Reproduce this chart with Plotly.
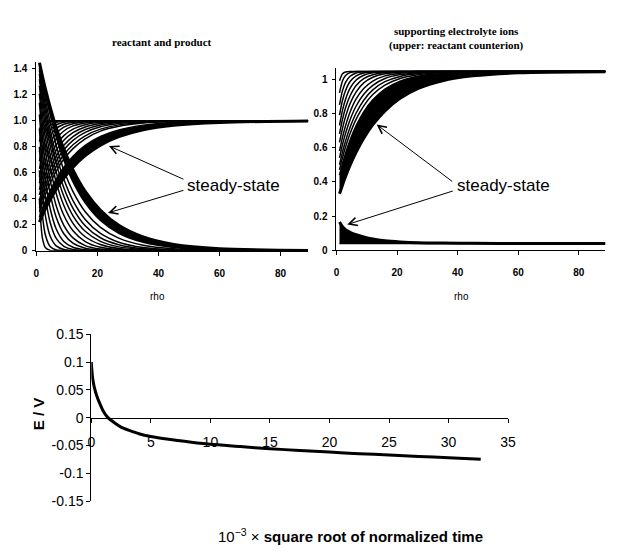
import plotly.graph_objects as go

W, H = 623, 553

# ---------------- data ----------------
RHO = [1, 2, 3, 4.5, 6.5, 9, 12, 16, 21, 27, 35, 45, 60, 92]

# reactant profiles (upper family, left panel), successive times
REACTANT_TRANSIENT = [
    [0.93, 0.983, 0.996, 1.0, 1.0, 1.0, 1.0, 1.0, 1.0, 1.0, 1.0, 1.0, 1.0, 1.0],
    [0.84, 0.93, 0.97, 0.991, 0.998, 1.0, 1.0, 1.0, 1.0, 1.0, 1.0, 1.0, 1.0, 1.0],
    [0.76, 0.862, 0.921, 0.966, 0.989, 0.997, 1.0, 1.0, 1.0, 1.0, 1.0, 1.0, 1.0, 1.0],
    [0.69, 0.796, 0.865, 0.928, 0.969, 0.989, 0.997, 0.999, 1.0, 1.0, 1.0, 1.0, 1.0, 1.0],
    [0.63, 0.735, 0.81, 0.885, 0.941, 0.974, 0.99, 0.997, 1.0, 1.0, 1.0, 1.0, 1.0, 1.0],
    [0.57, 0.672, 0.75, 0.833, 0.903, 0.951, 0.978, 0.993, 0.998, 1.0, 1.0, 1.0, 1.0, 1.0],
    [0.52, 0.617, 0.695, 0.784, 0.862, 0.922, 0.961, 0.984, 0.995, 0.999, 1.0, 1.0, 1.0, 1.0],
    [0.47, 0.563, 0.639, 0.73, 0.816, 0.886, 0.936, 0.97, 0.989, 0.996, 0.999, 1.0, 1.0, 1.0],
    [0.43, 0.518, 0.591, 0.682, 0.772, 0.85, 0.909, 0.953, 0.979, 0.993, 0.998, 1.0, 1.0, 1.0],
    [0.39, 0.474, 0.546, 0.635, 0.729, 0.812, 0.879, 0.933, 0.968, 0.987, 0.996, 0.999, 1.0, 1.0],
    [0.36, 0.439, 0.508, 0.596, 0.69, 0.777, 0.85, 0.911, 0.954, 0.979, 0.993, 0.998, 1.0, 1.0],
    [0.33, 0.404, 0.471, 0.556, 0.649, 0.739, 0.816, 0.885, 0.936, 0.969, 0.988, 0.996, 0.999, 1.0],
    [0.30, 0.37, 0.435, 0.518, 0.612, 0.705, 0.786, 0.862, 0.921, 0.958, 0.983, 0.994, 0.999, 1.0],
]
REACTANT_BAND_EDGE = [0.26, 0.324, 0.383, 0.461, 0.551, 0.643, 0.728, 0.811, 0.88, 0.93, 0.967, 0.987, 0.996, 1.0]
REACTANT_STEADY = [0.22, 0.274, 0.324, 0.392, 0.474, 0.559, 0.644, 0.732, 0.813, 0.878, 0.931, 0.966, 0.988, 0.999]

# product profiles (lower family, left panel)
PRODUCT_TRANSIENT = [
    [0.40, 0.096, 0.023, 0.003, 0.0, 0.0, 0.0, 0.0, 0.0, 0.0, 0.0, 0.0, 0.0, 0.0],
    [0.62, 0.27, 0.117, 0.033, 0.006, 0.001, 0.0, 0.0, 0.0, 0.0, 0.0, 0.0, 0.0, 0.0],
    [0.80, 0.459, 0.263, 0.114, 0.038, 0.01, 0.002, 0.0, 0.0, 0.0, 0.0, 0.0, 0.0, 0.0],
    [0.94, 0.619, 0.409, 0.219, 0.095, 0.034, 0.009, 0.002, 0.0, 0.0, 0.0, 0.0, 0.0, 0.0],
    [1.05, 0.753, 0.539, 0.327, 0.168, 0.072, 0.027, 0.007, 0.001, 0.0, 0.0, 0.0, 0.0, 0.0],
    [1.14, 0.87, 0.663, 0.442, 0.258, 0.131, 0.058, 0.019, 0.005, 0.001, 0.0, 0.0, 0.0, 0.0],
    [1.21, 0.964, 0.768, 0.546, 0.347, 0.196, 0.099, 0.04, 0.013, 0.004, 0.0, 0.0, 0.0, 0.0],
    [1.27, 1.048, 0.865, 0.648, 0.441, 0.273, 0.154, 0.071, 0.027, 0.009, 0.001, 0.0, 0.0, 0.0],
    [1.32, 1.117, 0.946, 0.737, 0.528, 0.348, 0.211, 0.108, 0.048, 0.017, 0.004, 0.001, 0.0, 0.0],
    [1.36, 1.174, 1.013, 0.813, 0.605, 0.419, 0.269, 0.15, 0.072, 0.03, 0.01, 0.003, 0.0, 0.0],
    [1.39, 1.218, 1.069, 0.877, 0.674, 0.485, 0.327, 0.193, 0.1, 0.046, 0.015, 0.004, 0.0, 0.0],
    [1.41, 1.253, 1.114, 0.933, 0.739, 0.55, 0.386, 0.241, 0.134, 0.066, 0.025, 0.008, 0.001, 0.0],
    [1.425, 1.29, 1.16, 0.99, 0.81, 0.62, 0.455, 0.30, 0.18, 0.097, 0.043, 0.015, 0.003, 0.0],
]
PRODUCT_BAND_EDGE = [1.44, 1.315, 1.201, 1.048, 0.874, 0.696, 0.53, 0.369, 0.233, 0.135, 0.065, 0.026, 0.007, 0.0]
PRODUCT_STEADY = [1.45, 1.343, 1.243, 1.108, 0.95, 0.784, 0.622, 0.457, 0.312, 0.196, 0.106, 0.049, 0.016, 0.001]

# reactant counterion (upper family, right panel)
COUNTER_TRANSIENT = [
    [0.99, 1.032, 1.042, 1.045, 1.045, 1.045, 1.045, 1.045, 1.045, 1.045, 1.045, 1.045, 1.045, 1.045],
    [0.92, 0.991, 1.021, 1.038, 1.044, 1.045, 1.045, 1.045, 1.045, 1.045, 1.045, 1.045, 1.045, 1.045],
    [0.85, 0.933, 0.981, 1.017, 1.036, 1.043, 1.045, 1.045, 1.045, 1.045, 1.045, 1.045, 1.045, 1.045],
    [0.79, 0.877, 0.934, 0.986, 1.019, 1.036, 1.042, 1.045, 1.045, 1.045, 1.045, 1.045, 1.045, 1.045],
    [0.73, 0.819, 0.883, 0.947, 0.995, 1.023, 1.037, 1.043, 1.045, 1.045, 1.045, 1.045, 1.045, 1.045],
    [0.68, 0.766, 0.833, 0.903, 0.963, 1.003, 1.026, 1.039, 1.043, 1.045, 1.045, 1.045, 1.045, 1.045],
    [0.63, 0.714, 0.781, 0.858, 0.926, 0.978, 1.011, 1.031, 1.04, 1.044, 1.045, 1.045, 1.045, 1.045],
    [0.58, 0.661, 0.728, 0.808, 0.884, 0.945, 0.989, 1.019, 1.035, 1.042, 1.045, 1.045, 1.045, 1.045],
    [0.54, 0.618, 0.683, 0.763, 0.843, 0.912, 0.964, 1.004, 1.027, 1.038, 1.043, 1.045, 1.045, 1.045],
    [0.50, 0.575, 0.639, 0.719, 0.802, 0.877, 0.937, 0.985, 1.016, 1.033, 1.041, 1.044, 1.045, 1.045],
    [0.47, 0.541, 0.603, 0.682, 0.766, 0.844, 0.91, 0.965, 1.004, 1.026, 1.039, 1.043, 1.045, 1.045],
]
COUNTER_BAND_EDGE = [0.44, 0.507, 0.567, 0.644, 0.728, 0.809, 0.879, 0.942, 0.988, 1.017, 1.034, 1.041, 1.044, 1.045]
COUNTER_STEADY = [0.33, 0.382, 0.431, 0.497, 0.574, 0.655, 0.734, 0.815, 0.888, 0.946, 0.991, 1.019, 1.037, 1.044]

# other supporting electrolyte ion (lower family, right panel)
COION_INITIAL = [0.04, 0.04, 0.04, 0.04, 0.04, 0.04, 0.04, 0.04, 0.04, 0.04, 0.04, 0.04, 0.04, 0.04]
COION_STEADY = [0.165, 0.138, 0.12, 0.105, 0.091, 0.078, 0.066, 0.056, 0.049, 0.044, 0.042, 0.041, 0.04, 0.04]

# potential transient
SQRT_TIME = [0, 0.05, 0.12, 0.25, 0.45, 0.7, 1.0, 1.4, 2.0, 2.5, 3.2, 4.0, 5.0, 6.5, 8.0,
             10, 12.5, 15, 17.5, 20, 22.5, 25, 27.5, 30, 32.7]
POTENTIAL = [0.100, 0.085, 0.070, 0.055, 0.040, 0.026, 0.012, 0.0, -0.010, -0.017, -0.023,
             -0.029, -0.034, -0.039, -0.043, -0.048, -0.052, -0.056, -0.059, -0.062,
             -0.065, -0.067, -0.070, -0.072, -0.075]

LEFT_YTICKS = [0, 0.2, 0.4, 0.6, 0.8, 1.0, 1.2, 1.4]
LEFT_YTICKTEXT = ["0", "0.2", "0.4", "0.6", "0.8", "1.0", "1.2", "1.4"]
RIGHT_YTICKS = [0, 0.2, 0.4, 0.6, 0.8, 1.0]
RIGHT_YTICKTEXT = ["0", "0.2", "0.4", "0.6", "0.8", "1"]
RHO_TICKS = [0, 20, 40, 60, 80]
E_TICKS = [-0.15, -0.1, -0.05, 0, 0.05, 0.1, 0.15]
E_TICKTEXT = ["-0.15", "-0.1", "-0.05", "0", "0.05", "0.1", "0.15"]
T_TICKS = [0, 5, 10, 15, 20, 25, 30, 35]

# ---------------- figure ----------------
fig = go.Figure()
BLACK = "black"
THIN = 1.5


def add_family(transients, edge, steady, xa, ya):
    for prof in transients:
        fig.add_trace(go.Scatter(x=RHO, y=prof, mode="lines", xaxis=xa, yaxis=ya,
                                 line=dict(color=BLACK, width=THIN, shape="spline", smoothing=0.8),
                                 showlegend=False, hoverinfo="skip"))
    fig.add_trace(go.Scatter(x=RHO, y=edge, mode="lines", xaxis=xa, yaxis=ya,
                             line=dict(color=BLACK, width=THIN, shape="spline", smoothing=0.8),
                             showlegend=False, hoverinfo="skip"))
    fig.add_trace(go.Scatter(x=RHO, y=steady, mode="lines", xaxis=xa, yaxis=ya, fill="tonexty",
                             fillcolor=BLACK,
                             line=dict(color=BLACK, width=3, shape="spline", smoothing=0.8),
                             showlegend=False, hoverinfo="skip"))


add_family(REACTANT_TRANSIENT, REACTANT_BAND_EDGE, REACTANT_STEADY, "x", "y")
add_family(PRODUCT_TRANSIENT, PRODUCT_BAND_EDGE, PRODUCT_STEADY, "x", "y")
add_family(COUNTER_TRANSIENT, COUNTER_BAND_EDGE, COUNTER_STEADY, "x2", "y2")
add_family([], COION_INITIAL, COION_STEADY, "x2", "y2")

fig.add_trace(go.Scatter(x=SQRT_TIME, y=POTENTIAL, mode="lines", xaxis="x3", yaxis="y3",
                         line=dict(color=BLACK, width=3, shape="spline", smoothing=0.6),
                         showlegend=False, hoverinfo="skip"))

SANS = "Liberation Sans, Arial, sans-serif"
SERIF = "Liberation Serif, Times New Roman, serif"
small_bold = dict(family=SANS, size=10, color=BLACK, weight="bold")
axis_common = dict(showgrid=False, zeroline=False, showline=True, linecolor=BLACK, linewidth=1,
                   ticks="outside", tickcolor=BLACK, tickwidth=1, fixedrange=True)


def px_x(p):
    return p / W


def px_y(p):
    return (H - p) / H


fig.update_layout(
    width=W, height=H, margin=dict(l=0, r=0, t=0, b=0),
    paper_bgcolor="white", plot_bgcolor="white",
    xaxis=dict(domain=[px_x(33), px_x(310)], range=[0, 89], anchor="y", ticklen=4,
               tickvals=RHO_TICKS, tickfont=small_bold, ticklabelstandoff=9, **axis_common),
    yaxis=dict(domain=[px_y(250), px_y(56)], range=[0, 1.45], anchor="x", ticklen=3,
               tickvals=LEFT_YTICKS, ticktext=LEFT_YTICKTEXT, tickfont=small_bold,
               ticklabelstandoff=3, **axis_common),
    xaxis2=dict(domain=[px_x(339), px_x(613)], range=[0, 88.7], anchor="y2", ticklen=4,
                tickvals=RHO_TICKS, tickfont=small_bold, ticklabelstandoff=9, **axis_common),
    yaxis2=dict(domain=[px_y(249.5), px_y(61.8)], range=[0, 1.065], anchor="x2", ticklen=3,
                tickvals=RIGHT_YTICKS, ticktext=RIGHT_YTICKTEXT, tickfont=small_bold,
                ticklabelstandoff=3, **axis_common),
    xaxis3=dict(domain=[px_x(89), px_x(514)], range=[0, 35], anchor="free",
                position=(px_y(507.7) + px_y(336)) / 2, ticklen=4,
                tickvals=T_TICKS, tickfont=dict(family=SANS, size=14, color=BLACK),
                ticklabelstandoff=8, **axis_common),
    yaxis3=dict(domain=[px_y(507.7), px_y(336)], range=[-0.15, 0.15], anchor="x3", ticklen=4,
                tickvals=E_TICKS, ticktext=E_TICKTEXT,
                tickfont=dict(family=SANS, size=14, color=BLACK), **axis_common),
)

ann = []


def label(text, x, y, font, **kw):
    ann.append(dict(text=text, x=px_x(x), y=px_y(y), xref="paper", yref="paper",
                    xanchor="center", yanchor="middle", showarrow=False, font=font, **kw))


label("reactant and product", 161, 35, dict(family=SERIF, size=11, color=BLACK, weight="bold"))
label("supporting electrolyte ions<br>(upper: reactant counterion)", 461, 31,
      dict(family=SERIF, size=11, color=BLACK, weight="bold"))
for cx in (157, 466):
    label("rho", cx, 297, dict(family=SANS, size=10, color=BLACK))
for tx in (234, 509):
    label("steady-state", tx, 183, dict(family=SANS, size=17, color=BLACK))
label("<b>E / V</b>", 36, 418, dict(family=SANS, size=15, color=BLACK), textangle=-90)
label("10<sup>\u22123</sup> \u00d7 <b>square root of normalized time</b>", 353, 543,
      dict(family=SANS, size=15, color=BLACK))

arrows = [((107, 142), (183, 176)), ((106, 211), (183, 188)),
          ((380, 120), (457, 178)), ((350, 223), (457, 189))]
for (hx, hy), (tx, ty) in arrows:
    ann.append(dict(x=px_x(hx), y=px_y(hy), xref="paper", yref="paper", text="",
                    showarrow=True, ax=tx - hx, ay=ty - hy, axref="pixel", ayref="pixel",
                    arrowhead=5, arrowsize=1.6, arrowwidth=1, arrowcolor=BLACK, standoff=0))
fig.update_layout(annotations=ann)

fig.write_html("out.html")
